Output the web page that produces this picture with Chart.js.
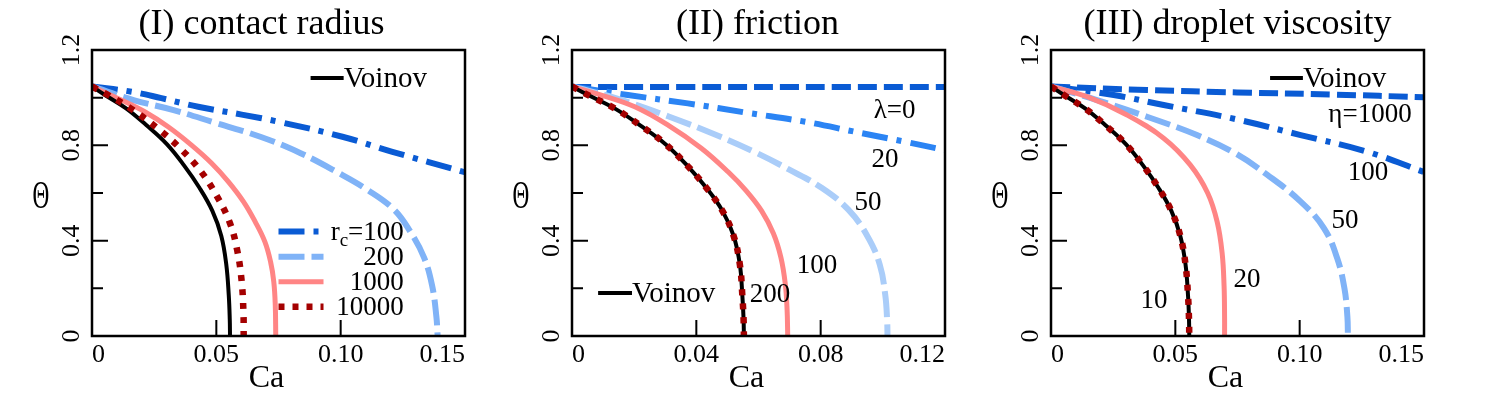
<!DOCTYPE html>
<html><head><meta charset="utf-8">
<script src="https://cdn.jsdelivr.net/npm/chart.js@4.4.1/dist/chart.umd.min.js"></script>
<style>
html,body{margin:0;padding:0;background:#fff;}
#wrap{position:relative;width:1509px;height:395px;overflow:hidden;background:#fff;}
canvas{position:absolute;top:0;}
</style></head><body>
<div id="wrap">
<canvas id="c1" width="500" height="395" style="left:0px"></canvas>
<canvas id="c2" width="490" height="395" style="left:500px"></canvas>
<canvas id="c3" width="519" height="395" style="left:990px"></canvas>
</div>
<script>
// ---------- text / ticks ----------
const panelTitles = ['(I) contact radius', '(II) friction', '(III) droplet viscosity'];
const xAxisTitle = 'Ca';
const yAxisTitle = 'Θ';
const xTicksI = [0, 0.05, 0.10, 0.15];
const xTickLabelsI = ['0', '0.05', '0.10', '0.15'];
const xTicksII = [0, 0.04, 0.08, 0.12];
const xTickLabelsII = ['0', '0.04', '0.08', '0.12'];
const xTicksIII = [0, 0.05, 0.10, 0.15];
const xTickLabelsIII = ['0', '0.05', '0.10', '0.15'];
const yTicks = [0, 0.4, 0.8, 1.2];
const yTickLabels = ['0', '0.4', '0.8', '1.2'];
const yMinorTicks = [0.2, 0.6, 1.0];

// ---------- (I) contact radius : [Ca, Theta] ----------
const voinovI = [[0,1.047],[0.0052,1.011],[0.0137,0.955],[0.0218,0.885],[0.0300,0.806],[0.0370,0.716],[0.0432,0.622],[0.0484,0.525],[0.0520,0.420],[0.0540,0.300],[0.0550,0.170],[0.0554,0.07],[0.0555,0]];
const rc100 = [[0,1.047],[0.0159,1.025],[0.0279,0.998],[0.0427,0.962],[0.0602,0.929],[0.075,0.899],[0.1007,0.836],[0.1208,0.773],[0.15,0.687]];
const rc200 = [[0,1.047],[0.0167,0.99],[0.0328,0.948],[0.0503,0.892],[0.0677,0.836],[0.0839,0.767],[0.0990,0.685],[0.1108,0.613],[0.1215,0.530],[0.1280,0.438],[0.1335,0.33],[0.1368,0.21],[0.1385,0.08],[0.139,0]];
const rc1000 = [[0,1.047],[0.0118,0.99],[0.0212,0.941],[0.0306,0.878],[0.0400,0.801],[0.0481,0.725],[0.0548,0.648],[0.0609,0.564],[0.0656,0.480],[0.0695,0.396],[0.0718,0.312],[0.0731,0.228],[0.0737,0.130],[0.0739,0]];
const rc10000 = [[0,1.047],[0.00645,1.011],[0.0165,0.948],[0.0266,0.869],[0.0354,0.788],[0.0437,0.692],[0.0501,0.589],[0.0555,0.473],[0.0585,0.354],[0.0602,0.228],[0.0609,0.10],[0.0610,0]];

// ---------- (II) friction ----------
const voinovII = [[0,1.047],[0.0052,1.011],[0.0137,0.955],[0.0218,0.885],[0.0300,0.806],[0.0370,0.716],[0.0432,0.622],[0.0484,0.525],[0.0520,0.420],[0.0540,0.300],[0.0548,0.170],[0.0552,0.07],[0.0553,0]];
const lam0 = [[0,1.045],[0.12,1.045]];
const lam20 = [[0,1.047],[0.018,1.011],[0.0373,0.976],[0.0566,0.936],[0.075,0.899],[0.091,0.857],[0.1071,0.815],[0.12,0.780]];
const lam50 = [[0,1.047],[0.0148,0.995],[0.0309,0.922],[0.047,0.840],[0.0594,0.768],[0.0696,0.700],[0.0803,0.622],[0.0889,0.530],[0.0950,0.42],[0.0990,0.300],[0.1008,0.170],[0.1014,0.06],[0.1015,0]];
const lam100 = [[0,1.047],[0.0094,1.011],[0.0202,0.962],[0.0309,0.885],[0.0416,0.788],[0.0502,0.689],[0.0560,0.610],[0.0610,0.525],[0.0648,0.430],[0.0672,0.330],[0.0686,0.220],[0.0692,0.110],[0.0694,0]];
const lam200 = [[0,1.047],[0.0052,1.011],[0.0137,0.955],[0.0218,0.885],[0.0300,0.806],[0.0370,0.716],[0.0432,0.622],[0.0484,0.525],[0.0520,0.420],[0.0540,0.300],[0.0548,0.170],[0.0552,0.07],[0.0553,0]];

// ---------- (III) droplet viscosity ----------
const voinovIII = [[0,1.047],[0.0052,1.011],[0.0137,0.955],[0.0218,0.885],[0.0300,0.806],[0.0370,0.716],[0.0432,0.622],[0.0484,0.525],[0.0520,0.420],[0.0541,0.300],[0.0551,0.170],[0.0555,0.07],[0.0556,0]];
const eta1000 = [[0,1.047],[0.0386,1.032],[0.0748,1.022],[0.1138,1.013],[0.15,1.002]];
const eta100 = [[0,1.047],[0.0252,1.011],[0.0453,0.969],[0.0742,0.910],[0.1004,0.843],[0.1272,0.773],[0.15,0.688]];
const eta50 = [[0,1.047],[0.0185,0.990],[0.0386,0.920],[0.0587,0.843],[0.0742,0.766],[0.087,0.676],[0.1004,0.564],[0.1098,0.452],[0.1151,0.326],[0.1180,0.200],[0.1192,0.080],[0.1194,0]];
const eta20 = [[0,1.047],[0.0145,1.004],[0.0306,0.927],[0.0453,0.830],[0.056,0.718],[0.0630,0.600],[0.0668,0.480],[0.0688,0.350],[0.0696,0.210],[0.0698,0.080],[0.0698,0]];
const eta10 = [[0,1.047],[0.0052,1.011],[0.0137,0.955],[0.0218,0.885],[0.0300,0.806],[0.0370,0.716],[0.0432,0.622],[0.0484,0.525],[0.0520,0.420],[0.0541,0.300],[0.0551,0.170],[0.0555,0.07],[0.0556,0]];

// ---------- styles ----------
const SERIF = "'Liberation Serif', 'DejaVu Serif', serif";
const C = {
  black: '#000000', darkBlue: '#0a5bd4', midBlue: '#2b84f4', lightBlue: '#80b3f7',
  paleBlue: '#aacdf9', pink: '#ff8585', darkRed: '#a40000'
};
const ST = {
  voinov: {color: C.black, width: 4, dash: []},
  dotted: {color: C.darkRed, width: 6.5, dash: [6, 8]},
  solid:  {color: C.pink, width: 5, dash: []},
  dashL:  {color: C.lightBlue, width: 6, dash: [26, 7]},
  dashP:  {color: C.paleBlue, width: 6, dash: [26, 7]},
  dashD:  {color: C.darkBlue, width: 6, dash: [19, 7]},
  dashDot:{color: C.darkBlue, width: 6, dash: [26, 9, 5, 9]},
  dashDotM:{color: C.midBlue, width: 6, dash: [26, 9, 5, 9]}
};

function pts(a) { return a.map(p => ({x: p[0], y: p[1]})); }
function ds(label, data, st) {
  return {label, data: pts(data), borderColor: st.color, borderWidth: st.width, borderDash: st.dash,
    borderCapStyle: 'butt', borderJoinStyle: 'round', pointRadius: 0, fill: false,
    tension: 0.4};
}

const decor = {
  id: 'decor',
  afterDatasetsDraw(chart, args, o) {
    const ctx = chart.ctx, ca = chart.chartArea, xs = chart.scales.x, ys = chart.scales.y;
    ctx.save();
    // tick marks (inward)
    ctx.strokeStyle = '#000'; ctx.lineWidth = 2; ctx.setLineDash([]);
    ctx.beginPath();
    ys.ticks.forEach(t => { const p = ys.getPixelForValue(t.value); ctx.moveTo(ca.left, p); ctx.lineTo(ca.left + 16, p); });
    yMinorTicks.forEach(v => { const p = ys.getPixelForValue(v); ctx.moveTo(ca.left, p); ctx.lineTo(ca.left + 11, p); });
    xs.ticks.forEach(t => { if (t.value <= xs.min || t.value >= xs.max) return; const p = xs.getPixelForValue(t.value); ctx.moveTo(p, ca.bottom); ctx.lineTo(p, ca.bottom - 16); });
    ctx.stroke();
    // frame
    ctx.lineWidth = 2.5;
    ctx.strokeRect(ca.left, ca.top, ca.right - ca.left, ca.bottom - ca.top);
    // title
    ctx.fillStyle = '#000';
    ctx.textAlign = 'center'; ctx.textBaseline = 'alphabetic';
    ctx.font = '36px ' + SERIF;
    ctx.fillText(o.title, (ca.left + ca.right) / 2 + o.titleDx, 34);
    // axis titles
    ctx.font = '32px ' + SERIF;
    ctx.fillText(xAxisTitle, (ca.left + ca.right) / 2 - 12, 387);
    ctx.save();
    ctx.translate(ca.left - 51, 197);
    ctx.scale(0.58, 1);
    ctx.font = '40px ' + SERIF; ctx.textBaseline = 'middle';
    ctx.fillText(yAxisTitle, 0, 0);
    ctx.restore();
    // legend line samples
    (o.lines || []).forEach(l => {
      ctx.beginPath();
      ctx.strokeStyle = l.st.color; ctx.lineWidth = l.st.width; ctx.setLineDash(l.st.dash); ctx.lineCap = 'butt';
      const y = ys.getPixelForValue(l.y);
      ctx.moveTo(xs.getPixelForValue(l.x0), y); ctx.lineTo(xs.getPixelForValue(l.x1), y);
      ctx.stroke();
    });
    ctx.setLineDash([]);
    // text labels
    ctx.fillStyle = '#000'; ctx.textBaseline = 'alphabetic';
    (o.labels || []).forEach(l => {
      const x = xs.getPixelForValue(l.x), y = ys.getPixelForValue(l.y);
      const size = l.size || 27;
      if (l.sub) {
        ctx.font = size + 'px ' + SERIF;
        const w1 = ctx.measureText(l.text).width, w3 = ctx.measureText(l.rest).width;
        ctx.font = Math.round(size * 0.72) + 'px ' + SERIF;
        const w2 = ctx.measureText(l.sub).width;
        let sx = x - (w1 + w2 + w3);
        ctx.textAlign = 'left';
        ctx.font = size + 'px ' + SERIF; ctx.fillText(l.text, sx, y);
        ctx.font = Math.round(size * 0.72) + 'px ' + SERIF; ctx.fillText(l.sub, sx + w1, y + 6);
        ctx.font = size + 'px ' + SERIF; ctx.fillText(l.rest, sx + w1 + w2, y);
      } else {
        ctx.font = size + 'px ' + SERIF;
        ctx.textAlign = l.align || 'center';
        ctx.fillText(l.text, x, y);
      }
    });
    ctx.restore();
  }
};

function makeChart(id, cfg) {
  const ctx = document.getElementById(id).getContext('2d');
  return new Chart(ctx, {
    type: 'line',
    data: {datasets: cfg.datasets},
    options: {
      responsive: false, animation: false, devicePixelRatio: 1,
      layout: {padding: {left: 0, right: cfg.padRight, top: 50, bottom: 0}},
      plugins: {legend: {display: false}, tooltip: {enabled: false}, title: {display: false},
        decor: {title: cfg.title, titleDx: cfg.titleDx, labels: cfg.labels, lines: cfg.lines}},
      scales: {
        x: {type: 'linear', min: 0, max: cfg.xMax,
          grid: {display: false, drawTicks: false}, border: {display: false},
          afterBuildTicks: s => { s.ticks = cfg.xTicks.map(v => ({value: v})); },
          afterFit: s => { s.height = 59; },
          ticks: {autoSkip: false, align: 'inner', padding: 4, color: '#000', minRotation: 0, maxRotation: 0,
            font: {family: SERIF, size: 26}, callback: (v, i) => cfg.xTickLabels[i]}},
        y: {type: 'linear', min: 0, max: 1.2,
          grid: {display: false, drawTicks: false}, border: {display: false},
          afterBuildTicks: s => { s.ticks = yTicks.map(v => ({value: v})); },
          afterFit: s => { s.width = cfg.yWidth; },
          ticks: {autoSkip: false, minRotation: 90, maxRotation: 90, crossAlign: 'center', padding: 4, color: '#000',
            font: {family: SERIF, size: 26}, callback: (v, i) => yTickLabels[i]}}
      }
    },
    plugins: [decor]
  });
}

// Panel I
makeChart('c1', {
  title: panelTitles[0], titleDx: -17, xMax: 0.15, xTicks: xTicksI, xTickLabels: xTickLabelsI,
  yWidth: 92, padRight: 35,
  datasets: [
    ds('10000', rc10000, ST.dotted),
    ds('Voinov', voinovI, ST.voinov),
    ds('1000', rc1000, ST.solid),
    ds('200', rc200, ST.dashL),
    ds('r_c=100', rc100, ST.dashDot)
  ],
  lines: [
    {x0: 0.0879, x1: 0.1012, y: 1.083, st: {color: C.black, width: 4, dash: []}},
    {x0: 0.075, x1: 0.0931, y: 0.438, st: ST.dashDot},
    {x0: 0.075, x1: 0.0931, y: 0.333, st: ST.dashL},
    {x0: 0.075, x1: 0.0931, y: 0.228, st: ST.solid},
    {x0: 0.075, x1: 0.0931, y: 0.123, st: ST.dotted}
  ],
  labels: [
    {text: 'Voinov', x: 0.1012, y: 1.045, align: 'left', size: 29},
    {text: 'r', sub: 'c', rest: '=100', x: 0.1254, y: 0.404},
    {text: '200', x: 0.1254, y: 0.299, align: 'right'},
    {text: '1000', x: 0.1254, y: 0.194, align: 'right'},
    {text: '10000', x: 0.1254, y: 0.089, align: 'right'}
  ]
});

// Panel II
makeChart('c2', {
  title: panelTitles[1], titleDx: -1, xMax: 0.12, xTicks: xTicksII, xTickLabels: xTickLabelsII,
  yWidth: 72, padRight: 45,
  datasets: [
    ds('200', lam200, ST.dotted),
    ds('Voinov', voinovII, ST.voinov),
    ds('100', lam100, ST.solid),
    ds('50', lam50, ST.dashP),
    ds('20', lam20, ST.dashDotM),
    ds('λ=0', lam0, ST.dashD)
  ],
  lines: [
    {x0: 0.0084, x1: 0.0193, y: 0.180, st: {color: C.black, width: 4, dash: []}}
  ],
  labels: [
    {text: 'Voinov', x: 0.0193, y: 0.143, align: 'left', size: 29},
    {text: 'λ=0', x: 0.1038, y: 0.915},
    {text: '20', x: 0.1007, y: 0.710},
    {text: '50', x: 0.0952, y: 0.529},
    {text: '100', x: 0.0788, y: 0.264},
    {text: '200', x: 0.0637, y: 0.143}
  ]
});

// Panel III
makeChart('c3', {
  title: panelTitles[2], titleDx: 0, xMax: 0.15, xTicks: xTicksIII, xTickLabels: xTickLabelsIII,
  yWidth: 61, padRight: 85,
  datasets: [
    ds('10', eta10, ST.dotted),
    ds('Voinov', voinovIII, ST.voinov),
    ds('20', eta20, ST.solid),
    ds('50', eta50, ST.dashL),
    ds('100', eta100, ST.dashDot),
    ds('η=1000', eta1000, ST.dashD)
  ],
  lines: [
    {x0: 0.0881, x1: 0.1013, y: 1.083, st: {color: C.black, width: 4, dash: []}}
  ],
  labels: [
    {text: 'Voinov', x: 0.1013, y: 1.045, align: 'left', size: 29},
    {text: 'η=1000', x: 0.1283, y: 0.899},
    {text: '100', x: 0.1275, y: 0.655},
    {text: '50', x: 0.1182, y: 0.453},
    {text: '20', x: 0.0788, y: 0.206},
    {text: '10', x: 0.0414, y: 0.118}
  ]
});
</script>
</body></html>
